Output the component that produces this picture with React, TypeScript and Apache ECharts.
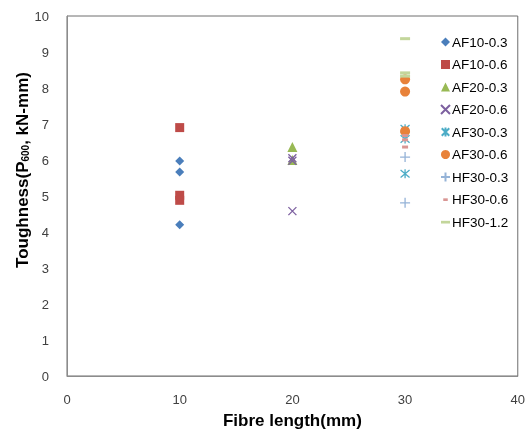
import React, { useEffect, useRef } from "react";
import * as echarts from "echarts";

const seriesNames = ["AF10-0.3", "AF10-0.6", "AF20-0.3", "AF20-0.6", "AF30-0.3", "AF30-0.6", "HF30-0.3", "HF30-0.6", "HF30-1.2"];
const fibreLengths = [10, 10, 20, 20, 30, 30, 30, 30, 30];
const af10_03 = [5.97, 5.67, 4.2];
const af10_06 = [6.9, 5.02, 4.88];
const af20_03 = [6.36, 6.0];
const af20_06 = [6.05, 5.98, 4.58];
const af30_03 = [6.87, 6.58, 5.62];
const af30_06 = [8.24, 7.9, 6.8];
const hf30_03 = [6.08, 4.81];
const hf30_06 = [6.68, 6.56, 6.36];
const hf30_12 = [9.37, 8.42, 8.33];
const seriesValues = [af10_03, af10_06, af20_03, af20_06, af30_03, af30_06, hf30_03, hf30_06, hf30_12];
const xTicks = [0, 10, 20, 30, 40];
const yTicks = [0, 1, 2, 3, 4, 5, 6, 7, 8, 9, 10];

const colors = ["#4A7EBB", "#BE4B48", "#98B954", "#7D60A0", "#4BACC6", "#E8823A", "#95B3D7", "#D99694", "#C3D69B"];
const X_PATH = "path://M0,0L10,10M10,0L0,10";
const STAR_PATH = "path://M0,0L10,10M10,0L0,10M5,-1L5,11";
const PLUS_PATH = "path://M5,0L5,10M0,5L10,5";
const SHORT_DASH = "path://M0,0M2.5,3.7L7.5,3.7L7.5,6.7L2.5,6.7ZM10,10";
const LONG_DASH = "path://M0,0M0,3.7L10,3.7L10,6.7L0,6.7ZM10,10";

const symbols = ["diamond", "rect", "triangle", X_PATH, STAR_PATH, "circle", PLUS_PATH, "rect", "rect"];
const symbolSizes: any[] = [9, 9, 10, 8, 9, 10, 10, [6, 3], [10, 3]];
const legendIcons = ["diamond", "rect", "triangle", X_PATH, STAR_PATH, "circle", PLUS_PATH, SHORT_DASH, LONG_DASH];
const strokeOnly = [false, false, false, true, true, false, true, false, false];

export default function App() {
  const ref = useRef<HTMLDivElement>(null);
  useEffect(() => {
    const chart = echarts.init(ref.current!, undefined, { renderer: "svg" });
    const font = "'Liberation Sans', Arial, sans-serif";
    chart.setOption({
      animation: false,
      textStyle: { fontFamily: font },
      grid: { left: 67, top: 16, right: 8, bottom: 54, show: true, borderColor: "#6E6E6E", borderWidth: 1 },
      xAxis: {
        type: "value",
        min: xTicks[0],
        max: xTicks[xTicks.length - 1],
        interval: 10,
        splitLine: { show: false },
        axisLine: { show: true, lineStyle: { color: "#8C8C8C" } },
        axisTick: { show: false },
        axisLabel: { color: "#404040", fontSize: 13, margin: 17, fontFamily: font },
        name: "Fibre length(mm)",
        nameLocation: "middle",
        nameGap: 36,
        nameTextStyle: { fontSize: 17, fontWeight: "bold", color: "#000", fontFamily: font },
      },
      yAxis: {
        type: "value",
        min: yTicks[0],
        max: yTicks[yTicks.length - 1],
        interval: 1,
        splitLine: { show: false },
        axisLine: { show: true, lineStyle: { color: "#8C8C8C" } },
        axisTick: { show: false },
        axisLabel: { color: "#404040", fontSize: 13, margin: 18, fontFamily: font },
      },
      legend: {
        orient: "vertical",
        left: 435,
        top: 30,
        itemWidth: 9,
        itemHeight: 9,
        itemGap: 8.5,
        textStyle: { fontSize: 13.5, color: "#000", lineHeight: 14, fontFamily: font, padding: [0, 0, 0, -3] },
        data: seriesNames.map((n, i) => ({ name: n, icon: legendIcons[i] })),
      },
      graphic: [
        {
          type: "text",
          x: 22,
          y: 170,
          rotation: Math.PI / 2,
          style: {
            text: "{a|Toughness(P}{s|600}{a|, kN-mm)}",
            align: "center",
            verticalAlign: "middle",
            rich: {
              a: { fontSize: 17, fontWeight: "bold", fill: "#000", fontFamily: font },
              s: { fontSize: 10, fontWeight: "bold", fill: "#000", fontFamily: font, padding: [7, 0, 0, 0] },
            },
          },
        },
      ],
      series: seriesNames.map((name, i) => ({
        name,
        type: "scatter",
        symbol: symbols[i],
        symbolSize: symbolSizes[i],
        data: seriesValues[i].map((v) => [fibreLengths[i], v]),
        itemStyle: strokeOnly[i]
          ? { color: colors[i], borderColor: colors[i], borderWidth: 1.3, opacity: 1 }
          : { color: colors[i], opacity: 1 },
        z: 2 + i,
      })),
    });
    return () => chart.dispose();
  }, []);
  return <div ref={ref} style={{ position: "fixed", left: 0, top: 0, width: 528, height: 434 }} />;
}
